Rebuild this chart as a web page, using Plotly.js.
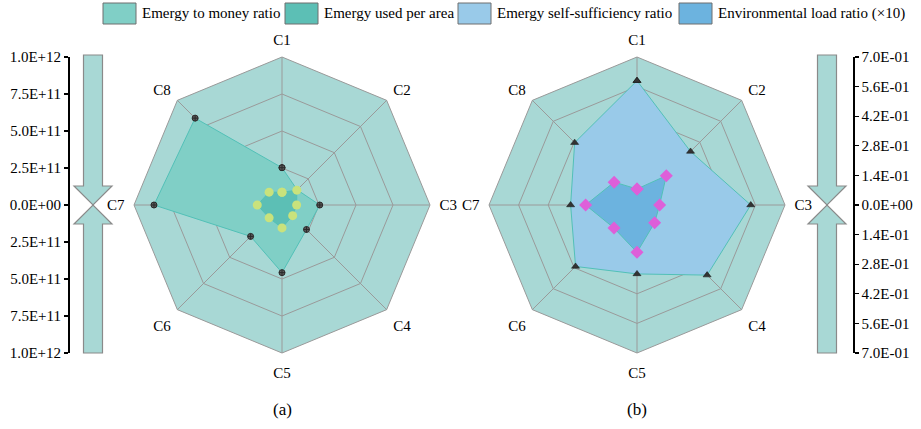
<!DOCTYPE html>
<html><head><meta charset="utf-8">
<script src="https://cdn.plot.ly/plotly-3.0.1.min.js"></script>
<style>html,body{margin:0;padding:0;background:#fff}#chart{width:921px;height:429px}</style>
</head><body><div id="chart"></div>
<script>
// ---- data ----
const categories = ['C1','C2','C3','C4','C5','C6','C7','C8'];
const emergyMoneyRatio = [2.52e11, 1.45e11, 2.55e11, 2.34e11, 4.57e11, 3.0e11, 8.65e11, 8.3e11];
const emergyPerArea   = [0.86e11, 1.42e11, 0.99e11, 1.02e11, 1.55e11, 1.23e11, 1.67e11, 1.23e11];
const selfSufficiency = [0.588, 0.358, 0.538, 0.469, 0.326, 0.411, 0.314, 0.417];
const envLoadRatio    = [0.076, 0.196, 0.107, 0.118, 0.224, 0.154, 0.243, 0.153];
const seriesNames = ['Emergy to money ratio','Emergy used per area','Emergy self-sufficiency ratio','Environmental load ratio (\u00d710)'];
const ticksA = [0, 2.5e11, 5e11, 7.5e11, 1e12];
const ticksB = [0, 0.14, 0.28, 0.42, 0.56, 0.7];
const panelLabels = ['(a)','(b)'];

// ---- styles / layout helpers ----
const W = 921, H = 429;
const px = x => x / W;
const py = y => 1 - y / H;
const FONT = '"Liberation Serif", "Times New Roman", serif';
const R = 148, CY = 205;
const centersX = [282, 637];
const fills = ['#80cfc6', '#5cbfb5', '#99cae9', '#6cb3df'];
const edge = '#52c0b7';
const bg = '#a8d8d5';
const grid = '#9a9a9a';

function sci(v){
  if (v === 0) return '0.0E+00';
  const e = Math.floor(Math.log10(Math.abs(v)) + 1e-9);
  const m = v / Math.pow(10, e);
  return m.toFixed(1) + 'E' + (e < 0 ? '-' : '+') + String(Math.abs(e)).padStart(2, '0');
}
const close = a => a.concat([a[0]]);
const sym = t => t.slice(1).reverse().map(v => -v).concat(t);

function polarDomain(cx){
  return {x:[px(cx - R), px(cx + R)], y:[py(CY + R), py(CY - R)]};
}
function polarLayout(cx, ticks){
  return {
    domain: polarDomain(cx),
    gridshape: 'linear',
    bgcolor: bg,
    radialaxis: {range:[0, ticks[ticks.length-1]], tickvals: ticks, showticklabels:false,
                 ticks:'', showline:false, gridcolor: grid, gridwidth:1},
    angularaxis: {type:'category', categoryarray: categories, rotation:90, direction:'clockwise',
                  ticks:'outside', ticklen:6, tickcolor:'rgba(0,0,0,0)',
                  showline:true, linecolor: grid, linewidth:1, gridcolor: grid,
                  tickfont:{family: FONT, size:15, color:'#000'}}
  };
}

const traces = [
  {type:'scatterpolar', subplot:'polar', r: close(emergyMoneyRatio), theta: close(categories),
   mode:'lines+markers', fill:'toself', fillcolor: fills[0], line:{color: edge, width:1},
   marker:{symbol:'circle-cross', size:6, color:'#5a5a5a', line:{color:'#2a2a2a', width:1}},
   name: seriesNames[0], showlegend:false, hoverinfo:'skip'},
  {type:'scatterpolar', subplot:'polar', r: close(emergyPerArea), theta: close(categories),
   mode:'lines+markers', fill:'toself', fillcolor: fills[1], line:{color: edge, width:1},
   marker:{symbol:'circle', size:9, color:'#c9e27c'},
   name: seriesNames[1], showlegend:false, hoverinfo:'skip'},
  {type:'scatterpolar', subplot:'polar2', r: close(selfSufficiency), theta: close(categories),
   mode:'lines+markers', fill:'toself', fillcolor: fills[2], line:{color: edge, width:1},
   marker:{symbol:'triangle-up', size:7, color:'#333', line:{color:'#111', width:0.5}},
   name: seriesNames[2], showlegend:false, hoverinfo:'skip'},
  {type:'scatterpolar', subplot:'polar2', r: close(envLoadRatio), theta: close(categories),
   mode:'lines+markers', fill:'toself', fillcolor: fills[3], line:{color: edge, width:1},
   marker:{symbol:'diamond', size:10, color:'#de5fd9'},
   name: seriesNames[3], showlegend:false, hoverinfo:'skip'},
  {type:'scatter', x:[], y:[], xaxis:'x', yaxis:'y', showlegend:false, hoverinfo:'skip'},
  {type:'scatter', x:[], y:[], xaxis:'x2', yaxis:'y2', showlegend:false, hoverinfo:'skip'}
];

function sideAxis(ticks, posX, side){
  const tv = sym(ticks);
  return {
    domain:[py(CY + R), py(CY - R)], range:[-ticks[ticks.length-1], ticks[ticks.length-1]],
    anchor:'free', position: px(posX), side: side,
    tickvals: tv, ticktext: tv.map(v => sci(Math.abs(v))),
    ticks:'outside', ticklen:4, tickwidth:1.2, tickcolor:'#000',
    showline:true, linecolor:'#000', linewidth:1.5, showgrid:false, zeroline:false,
    tickfont:{family: FONT, size:15, color:'#000'}, fixedrange:true
  };
}

function arrowPaths(cx){
  const sw = 9.5, hw = 19, top = 55, bot = 353, hb = 19;
  const up = `M${px(cx-sw)},${py(top)} L${px(cx+sw)},${py(top)} L${px(cx+sw)},${py(CY-hb)} L${px(cx+hw)},${py(CY-hb)} L${px(cx)},${py(CY)} L${px(cx-hw)},${py(CY-hb)} L${px(cx-sw)},${py(CY-hb)} Z`;
  const dn = `M${px(cx-sw)},${py(bot)} L${px(cx+sw)},${py(bot)} L${px(cx+sw)},${py(CY+hb)} L${px(cx+hw)},${py(CY+hb)} L${px(cx)},${py(CY)} L${px(cx-hw)},${py(CY+hb)} L${px(cx-sw)},${py(CY+hb)} Z`;
  return [up, dn].map(p => ({type:'path', xref:'paper', yref:'paper', path:p,
    fillcolor: bg, line:{color:'#8a8a8a', width:1.2}}));
}

// legend (manual swatches)
const legendX = [103, 285, 458, 679];
const swW = 33, swTop = 3, swBot = 24;
const shapes = [...arrowPaths(93), ...arrowPaths(827)];
const annotations = [];
seriesNames.forEach((n, i) => {
  shapes.push({type:'rect', xref:'paper', yref:'paper', x0:px(legendX[i]), x1:px(legendX[i]+swW),
    y0:py(swBot), y1:py(swTop), fillcolor: fills[i], line:{color:'#6f6f6f', width:1}});
  annotations.push({xref:'paper', yref:'paper', x:px(legendX[i]+swW+4), y:py(13.5),
    xanchor:'left', yanchor:'middle', showarrow:false, text:n,
    font:{family: FONT, size:15, color:'#000'}});
});
panelLabels.forEach((t, i) => {
  annotations.push({xref:'paper', yref:'paper', x:px(centersX[i]), y:py(409),
    xanchor:'center', yanchor:'middle', showarrow:false, text:t,
    font:{family: FONT, size:17, color:'#000'}});
});

const layout = {
  width: W, height: H, margin:{l:0, r:0, t:0, b:0},
  paper_bgcolor:'#fff', plot_bgcolor:'rgba(0,0,0,0)', showlegend:false,
  font:{family: FONT, color:'#000'},
  polar: polarLayout(centersX[0], ticksA),
  polar2: polarLayout(centersX[1], ticksB),
  xaxis:{domain:[0, 0.03], visible:false, range:[0,1], fixedrange:true},
  yaxis: sideAxis(ticksA, 68, 'left'),
  xaxis2:{domain:[0.97, 1], visible:false, range:[0,1], anchor:'y2', fixedrange:true},
  yaxis2: sideAxis(ticksB, 853, 'right'),
  shapes: shapes, annotations: annotations
};

Plotly.newPlot('chart', traces, layout, {staticPlot:true, displayModeBar:false});
</script></body></html>
